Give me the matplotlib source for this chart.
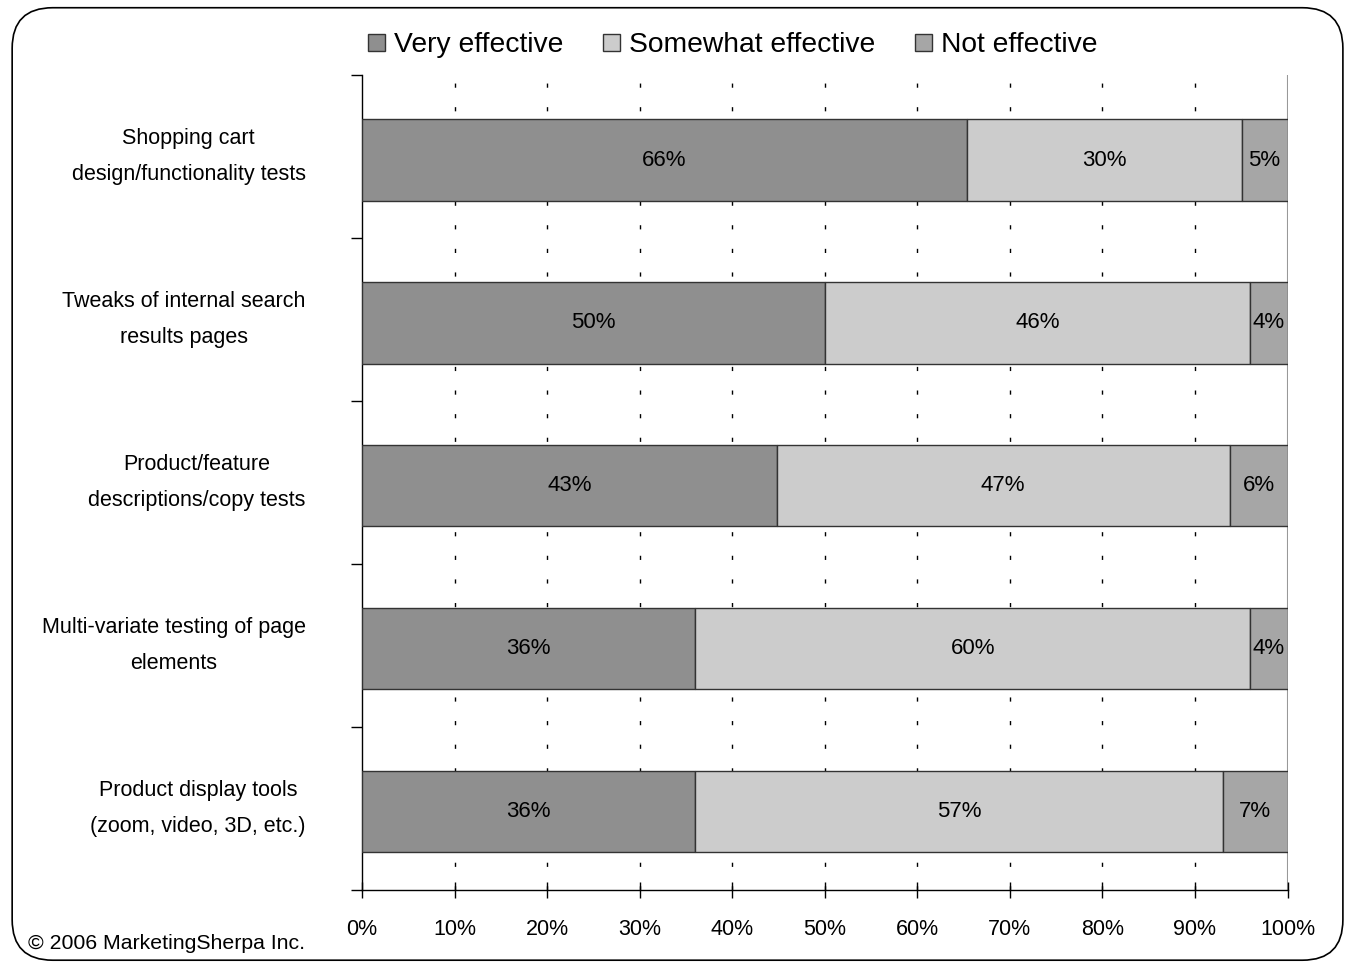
import numpy as np
import matplotlib.pyplot as plt
from matplotlib.patches import FancyBboxPatch

plt.rcParams["font.family"] = ["Liberation Sans", "DejaVu Sans"]

# ── Data ─────────────────────────────────────────────────────────────────────
categories = [
    "Shopping cart\ndesign/functionality tests",
    "Tweaks of internal search\nresults pages",
    "Product/feature\ndescriptions/copy tests",
    "Multi-variate testing of page\nelements",
    "Product display tools\n(zoom, video, 3D, etc.)",
]
very_effective     = [66, 50, 43, 36, 36]
somewhat_effective = [30, 46, 47, 60, 57]
not_effective      = [5, 4, 6, 4, 7]

series_names  = ["Very effective", "Somewhat effective", "Not effective"]
series_colors = ["#8f8f8f", "#cccccc", "#a6a6a6"]
x_ticks = np.arange(0, 101, 10)


def main():
    raw = np.array([very_effective, somewhat_effective, not_effective], dtype=float)
    share = raw / raw.sum(axis=0) * 100.0      # 100% stacked

    fig = plt.figure(figsize=(13.51, 9.66), dpi=100)
    ax = fig.add_axes([0.268, 0.079, 0.685, 0.843])

    # rounded frame around the whole chart
    frame = FancyBboxPatch((0.009, 0.006), 0.985, 0.986,
                           boxstyle="round,pad=0,rounding_size=0.03",
                           transform=fig.transFigure, fill=False,
                           edgecolor="black", linewidth=1.2,
                           mutation_aspect=1351 / 966)
    fig.patches.append(frame)

    y = np.arange(len(categories)) + 0.52
    left = np.zeros(len(categories))
    for vals, pct, name, col in zip(raw, share, series_names, series_colors):
        ax.barh(y, pct, left=left, height=0.5, color=col, edgecolor="#333333",
                linewidth=1.0, label=name, zorder=3)
        for yi, l, w, v in zip(y, left, pct, vals):
            ax.text(l + w / 2, yi, f"{v:.0f}%", ha="center", va="center",
                    fontsize=16, zorder=4)
        left += pct

    ax.set_xlim(0, 100)
    ax.set_ylim(len(categories), 0)

    # dashed gridlines, solid grey at 100%
    for xv in x_ticks[1:-1]:
        ax.axvline(xv, color="black", lw=1.0, dashes=(3, 14), zorder=1)
    ax.axvline(100, color="#999999", lw=1.5, zorder=1)

    ax.set_xticks(x_ticks)
    ax.set_xticklabels([f"{v}%" for v in x_ticks], fontsize=15.5)
    ax.tick_params(axis="x", direction="inout", length=12, width=1.0, pad=15)
    ax.set_yticks(np.arange(len(categories) + 1))
    ax.set_yticklabels([])
    ax.tick_params(axis="y", direction="out", length=8, width=1.0)

    for s in ("top", "right"):
        ax.spines[s].set_visible(False)
    ax.spines["left"].set_linewidth(1.0)
    ax.spines["bottom"].set_linewidth(1.0)

    for yi, lab in zip(y, categories):
        ax.text(-0.061, yi - 0.02, lab, transform=ax.get_yaxis_transform(),
                ha="right", va="center", multialignment="center",
                fontsize=15.5, linespacing=1.95)

    ax.legend(loc="lower left", bbox_to_anchor=(-0.012, 1.0), ncol=3, frameon=False,
              fontsize=20.3, handlelength=0.6, handleheight=0.6, handletextpad=0.33,
              columnspacing=1.4, borderaxespad=0.2)

    fig.text(0.021, 0.013, "\u00a9 2006 MarketingSherpa Inc.", fontsize=15.3,
             ha="left", va="bottom")

    fig.savefig("out.png", dpi=100)


if __name__ == "__main__":
    main()
